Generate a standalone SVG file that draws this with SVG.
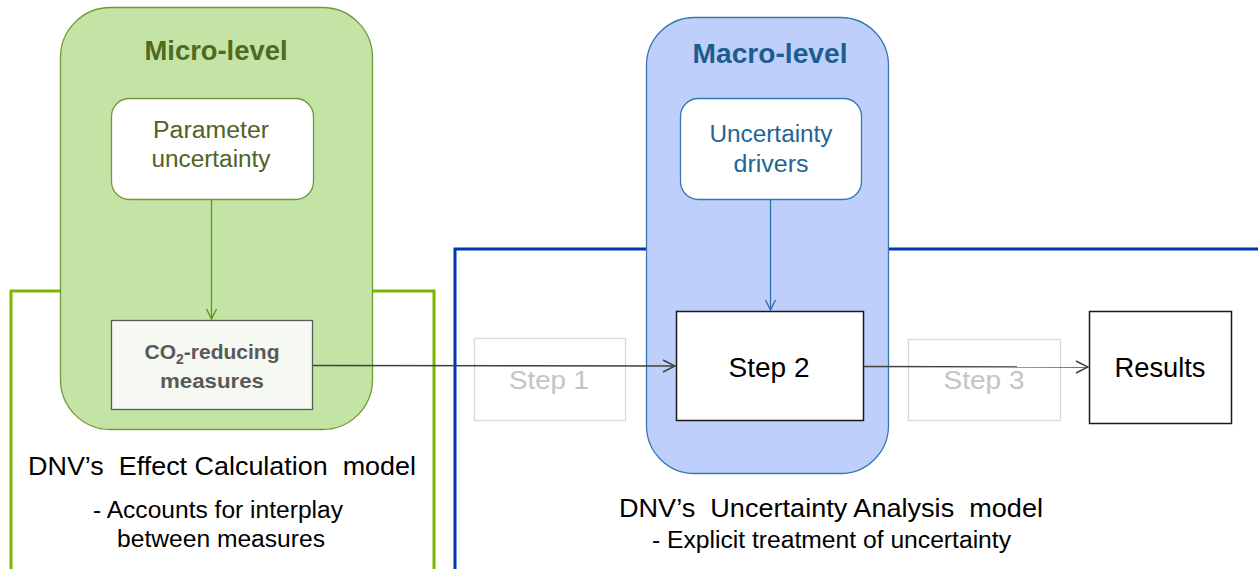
<svg xmlns="http://www.w3.org/2000/svg" width="1258" height="569" viewBox="0 0 1258 569">
  <style>
    text { font-family: "Liberation Sans", Arial, sans-serif; text-anchor: middle; }
    .title { font-size: 27px; font-weight: bold; }
    .inner { font-size: 23px; }
    .step { font-size: 27px; fill: #000; }
    .ghost { font-size: 26px; fill: #c4c4c4; }
    .caption { font-size: 25px; fill: #000; }
    .sub { font-size: 23px; fill: #000; }
    .conn { fill: none; stroke-width: 1.3; }
  </style>
  <defs>
    <marker id="arrGreen" viewBox="0 0 12 12" refX="11" refY="6" markerWidth="12" markerHeight="12" markerUnits="userSpaceOnUse" orient="auto">
      <path d="M1,1 L11,6 L1,11" fill="none" stroke="#5e9420" stroke-width="1.4"/>
    </marker>
    <marker id="arrBlue" viewBox="0 0 12 12" refX="11" refY="6" markerWidth="12" markerHeight="12" markerUnits="userSpaceOnUse" orient="auto">
      <path d="M1,1 L11,6 L1,11" fill="none" stroke="#2f74a6" stroke-width="1.4"/>
    </marker>
    <marker id="arrDark" viewBox="0 0 14 14" refX="13" refY="7" markerWidth="14" markerHeight="14" markerUnits="userSpaceOnUse" orient="auto">
      <path d="M1,1 L13,7 L1,13" fill="none" stroke="#404040" stroke-width="1.5"/>
    </marker>
  </defs>

  <!-- model frames -->
  <g id="effect-frame">
    <path d="M11,569 V291 H434 V569" fill="none" stroke="#7ab800" stroke-width="3"/>
  </g>
  <g id="uncertainty-frame">
    <path d="M455,569 V249 H1258" fill="none" stroke="#0034b4" stroke-width="3"/>
  </g>

  <!-- level containers -->
  <g id="micro-level">
    <rect x="60.5" y="7.5" width="312" height="422" rx="50" ry="50" fill="#c4e4a5" stroke="#6f9a35" stroke-width="1.3"/>
    <text class="title" x="216" y="60" fill="#4f6a1e" textLength="143" lengthAdjust="spacingAndGlyphs">Micro-level</text>
  </g>
  <g id="macro-level">
    <rect x="646.5" y="17.5" width="242" height="456" rx="48" ry="48" fill="#bfcffb" stroke="#3478ac" stroke-width="1.3"/>
    <text class="title" x="770" y="63" fill="#1b5e8e" textLength="155" lengthAdjust="spacingAndGlyphs">Macro-level</text>
  </g>

  <!-- nodes -->
  <g id="parameter-uncertainty">
    <rect x="111.5" y="98.5" width="202" height="101" rx="18" ry="18" fill="#ffffff" stroke="#6f9a35" stroke-width="1.3"/>
    <text class="inner" x="211" y="138" fill="#4f6228" textLength="116" lengthAdjust="spacingAndGlyphs">Parameter</text>
    <text class="inner" x="211" y="167" fill="#4f6228" textLength="119" lengthAdjust="spacingAndGlyphs">uncertainty</text>
  </g>
  <g id="co2-measures">
    <rect x="111.5" y="320.5" width="201" height="89" fill="#f6f9f1" stroke="#595959" stroke-width="1.3"/>
    <text x="212" y="359" font-size="21" font-weight="bold" fill="#595959">CO<tspan font-size="14" dy="5">2</tspan><tspan dy="-5">-reducing</tspan></text>
    <text x="212" y="388" font-size="21" font-weight="bold" fill="#595959" textLength="104" lengthAdjust="spacingAndGlyphs">measures</text>
  </g>
  <g id="uncertainty-drivers">
    <rect x="680.5" y="98.5" width="181" height="101" rx="18" ry="18" fill="#ffffff" stroke="#3478ac" stroke-width="1.3"/>
    <text class="inner" x="771" y="142" fill="#1f6596" textLength="123" lengthAdjust="spacingAndGlyphs">Uncertainty</text>
    <text class="inner" x="771" y="172" fill="#1f6596" textLength="75" lengthAdjust="spacingAndGlyphs">drivers</text>
  </g>
  <g id="step-1">
    <rect x="474.5" y="338.5" width="151" height="82" fill="none" stroke="#d9d9d9" stroke-width="1.3"/>
    <text class="ghost" x="549" y="389" textLength="80" lengthAdjust="spacingAndGlyphs">Step 1</text>
  </g>
  <g id="step-2">
    <rect x="676.5" y="311.5" width="187" height="109" fill="#ffffff" stroke="#1a1a1a" stroke-width="1.5"/>
    <text class="step" x="769" y="377" textLength="81" lengthAdjust="spacingAndGlyphs">Step 2</text>
  </g>
  <g id="step-3">
    <rect x="908.5" y="339.5" width="152" height="81" fill="none" stroke="#d9d9d9" stroke-width="1.3"/>
    <text class="ghost" x="984" y="389" textLength="81" lengthAdjust="spacingAndGlyphs">Step 3</text>
  </g>
  <g id="results">
    <rect x="1089.5" y="311.5" width="142" height="112" fill="#ffffff" stroke="#1a1a1a" stroke-width="1.5"/>
    <text class="step" x="1160" y="377" textLength="91" lengthAdjust="spacingAndGlyphs">Results</text>
  </g>

  <!-- connectors -->
  <g id="connectors">
    <line class="conn" x1="211.5" y1="200" x2="211.5" y2="319" stroke="#5e9420" marker-end="url(#arrGreen)"/>
    <line class="conn" x1="770.5" y1="200" x2="770.5" y2="310" stroke="#2f74a6" marker-end="url(#arrBlue)"/>
    <line class="conn" x1="313" y1="365.5" x2="675" y2="366" stroke="#404040" marker-end="url(#arrDark)"/>
    <line class="conn" x1="864" y1="366.5" x2="1088" y2="367" stroke="#404040" marker-end="url(#arrDark)"/>
  </g>

  <!-- captions -->
  <g id="effect-caption">
    <text class="caption" x="222" y="475" xml:space="preserve" textLength="388" lengthAdjust="spacingAndGlyphs">DNV’s  Effect Calculation  model</text>
    <text class="sub" x="218" y="518" textLength="250" lengthAdjust="spacingAndGlyphs">- Accounts for interplay</text>
    <text class="sub" x="221" y="547" textLength="208" lengthAdjust="spacingAndGlyphs">between measures</text>
  </g>
  <g id="uncertainty-caption">
    <text class="caption" x="831" y="517" xml:space="preserve" textLength="424" lengthAdjust="spacingAndGlyphs">DNV’s  Uncertainty Analysis  model</text>
    <text class="sub" x="831.5" y="548" textLength="359" lengthAdjust="spacingAndGlyphs">- Explicit treatment of uncertainty</text>
  </g>
</svg>
